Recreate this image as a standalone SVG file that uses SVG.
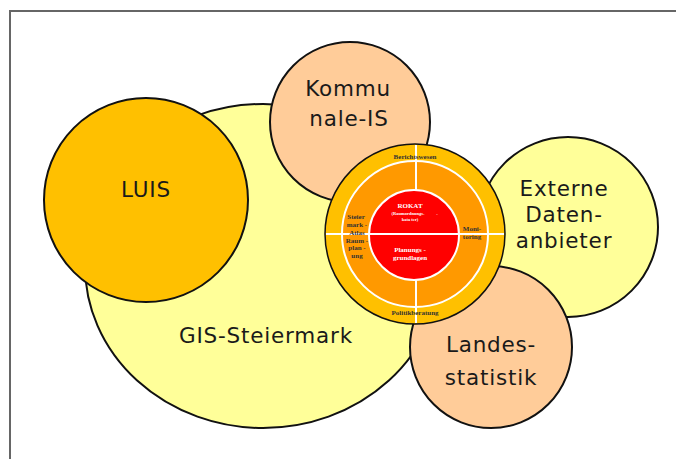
<svg xmlns="http://www.w3.org/2000/svg" width="676" height="459" viewBox="0 0 676 459">
<style>
.c{stroke:#111;stroke-width:2}
.lbl{font-family:"DejaVu Sans",Verdana,sans-serif;font-size:21.5px;letter-spacing:0.8px;fill:#1a1a1a;text-anchor:middle}
.sm{font-family:"Liberation Serif","Times New Roman",serif;font-size:7px;font-weight:bold;fill:#333;text-anchor:middle}
.wt{font-family:"Liberation Serif","Times New Roman",serif;font-size:7px;font-weight:bold;fill:#fff;text-anchor:middle}
.wl{stroke:#fff;stroke-width:2;fill:none}
</style>
<rect x="0" y="0" width="676" height="459" fill="#fff"/>
<path d="M10 459 V11 H676" fill="none" stroke="#666" stroke-width="2"/>
<g id="gis"><ellipse class="c" cx="263" cy="266" rx="178" ry="162" fill="#FFFF99"/><text class="lbl" x="266" y="343">GIS-Steiermark</text></g>
<g id="luis"><circle class="c" cx="146" cy="200" r="102" fill="#FFC000"/><text class="lbl" x="146" y="197">LUIS</text></g>
<g id="kommunale"><circle class="c" cx="350" cy="122" r="80" fill="#FFCC99"/><text class="lbl" x="348" y="96">Kommu</text><text class="lbl" x="349" y="126">nale-IS</text></g>
<g id="externe"><circle class="c" cx="568" cy="227" r="90" fill="#FFFF99"/><text class="lbl" x="564" y="196">Externe</text><text class="lbl" x="564" y="222">Daten-</text><text class="lbl" x="564" y="248">anbieter</text></g>
<g id="landes"><circle class="c" cx="491" cy="347" r="81" fill="#FFCC99"/><text class="lbl" x="491" y="352">Landes-</text><text class="lbl" x="491" y="385">statistik</text></g>
<g id="center">
<circle cx="415" cy="234" r="90" fill="#FFC000" stroke="#111" stroke-width="1.5"/>
<circle cx="415" cy="234" r="73" class="wl" style="fill:#FF9900"/>
<circle cx="414" cy="235" r="45" fill="#FF0000" stroke="#fff" stroke-width="2"/>
<line class="wl" x1="326" y1="234" x2="504" y2="234"/>
<line class="wl" x1="416" y1="145" x2="416" y2="190"/>
<line class="wl" x1="416" y1="280" x2="416" y2="323"/>
<text class="sm" x="415" y="159">Berichtswesen</text>
<text class="sm" x="415" y="315">Politikberatung</text>
<text class="sm" x="356" y="219">Steier</text>
<text class="sm" x="357" y="227">mark -</text>
<text class="sm" x="357" y="235">Atlas</text>
<text class="sm" x="357" y="243">Raum -</text>
<text class="sm" x="357" y="250">plan -</text>
<text class="sm" x="357" y="258">ung</text>
<text class="sm" x="472" y="231">Moni-</text>
<text class="sm" x="472" y="239">toring</text>
<text class="wt" x="410" y="208">ROKAT</text>
<text class="wt" x="408" y="215" style="font-size:4.5px">(Raumordnungs-</text>
<text class="wt" x="437" y="215" style="font-size:4.5px">-</text>
<text class="wt" x="410" y="221" style="font-size:4.5px">kata   ter)</text>
<text class="wt" x="410" y="252">Planungs   -</text>
<text class="wt" x="410" y="260">grundlagen</text>
</g>
</svg>
